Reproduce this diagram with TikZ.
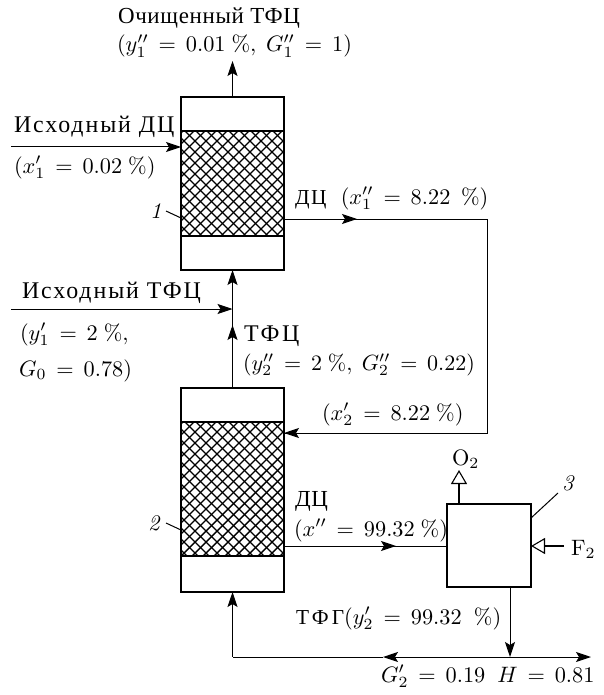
\documentclass[tikz,border=0pt]{standalone}
\usepackage[no-math]{fontspec}
\setmainfont[Scale=0.956,LetterSpace=3]{Liberation Serif}
\usetikzlibrary{arrows.meta}
\newcommand{\wideA}{\addfontfeature{LetterSpace=8}}
\newcommand{\wideB}{\addfontfeature{LetterSpace=11}}
\tikzset{
  vessel/.style={draw,line width=1.7pt,minimum width=103pt,inner sep=0pt,outer sep=0pt},
  box/.style={draw,line width=1.7pt,minimum width=84pt,minimum height=83pt,inner sep=0pt,outer sep=0pt},
  base/.style={anchor=base west,inner sep=0pt,outer sep=0pt},
  lbl/.style={base,scale=2.4},
  wlb/.style={base,scale=2.5},
  mth/.style={base,scale=2.23},
  mtn/.style={base,scale=2.2},
  flow/.style={line width=1pt,-{Stealth[length=15pt,width=10pt,inset=3pt]}},
  pipe/.style={line width=1pt},
  hollow/.style={line width=1.1pt,-{Triangle[open,length=14pt,width=16pt,fill=white,line width=1.1pt]}},
  hatchline/.style={line width=1.4pt},
}
\newcommand{\hatchfill}[4]{%
  \begin{scope}
    \clip (#1,#2) rectangle (#3,#4);
    \foreach \k in {0,...,80}{
      \draw[hatchline] (#1+\k*11-500,#2) ++(0,-20) -- ++(200,200);
      \draw[hatchline] (#1+\k*11,#2) ++(0,-20) -- ++(-200,200);
    }
  \end{scope}}
\begin{document}
\begin{tikzpicture}[x=1pt,y=-1pt]
\useasboundingbox (0,0) rectangle (603,695);
% hatching
\hatchfill{181}{131}{284}{236}
\hatchfill{181}{422}{284}{556}
% vessels
\node[vessel,minimum height=173pt] (c1) at (232.5,183.5) {};
\node[vessel,minimum height=204pt] (c2) at (232.5,490) {};
\draw[line width=1.4pt] (181,131) -- (284,131);
\draw[line width=1.4pt] (181,236) -- (284,236);
\draw[line width=1.4pt] (181,422) -- (284,422);
\draw[line width=1.4pt] (181,556) -- (284,556);
\node[box] (b3) at (489,545.5) {};
% free ends and bends
\coordinate (top) at (232.5,61);
\coordinate (inA) at (11,147);
\coordinate (inAe) at (181,147);
\coordinate (inB) at (11,309);
\coordinate (jB) at (232.5,309);
\coordinate (midT) at (232.5,325);
\coordinate (r1) at (284,219);
\coordinate (r1m) at (357,219);
\coordinate (r2) at (487,219);
\coordinate (r3) at (487,433);
\coordinate (r4) at (284,433);
\coordinate (s1) at (284,546);
\coordinate (s1m) at (396,546);
\coordinate (s2) at (447,546);
\coordinate (o2e) at (459,470);
\coordinate (o2s) at (459,504);
\coordinate (f2s) at (564,546);
\coordinate (f2e) at (531,546);
\coordinate (d1) at (510,587);
\coordinate (d2) at (510,657);
\coordinate (hl) at (383,657);
\coordinate (hr) at (591,657);
\coordinate (hb) at (232.5,657);
% connectors
\draw[flow] (c1.north) -- (top);
\draw[flow] (inA) -- (inAe);
\draw[flow] (inB) -- (jB);
\draw[flow] (c2.north) -- (c1.south);
\draw[flow] (c2.north) -- (midT);
\draw[pipe] (r1) -- (r2) -- (r3) -- (r4);
\draw[flow] (r1) -- (r1m);
\draw[flow] (r3) -- (r4);
\draw[pipe] (s1) -- (s2);
\draw[flow] (s1) -- (s1m);
\draw[flow] (d1) -- (d2);
\draw[flow] (d2) -- (hr);
\draw[flow] (d2) -- (hl);
\draw[pipe] (hl) -- (hb);
\draw[flow] (hb) -- (c2.south);
\draw[hollow] (o2s) -- (o2e);
\draw[hollow] (f2s) -- (f2e);
% leaders
\coordinate (l1a) at (166,211); \coordinate (l1b) at (181,218);
\coordinate (l2a) at (166,523); \coordinate (l2b) at (181,530);
\coordinate (l3a) at (558,493); \coordinate (l3b) at (531,518);
\draw[pipe] (l1a) -- (l1b);
\draw[pipe] (l2a) -- (l2b);
\draw[pipe] (l3a) -- (l3b);
% labels
\node[lbl] (t1) at (118,24) {Очищенный ТФЦ};
\node[mth] (t2) at (117,52) {$(y''_1\,=\,0.01\ \%,\ G''_1\,=\,1)$};
\node[wlb] (t3) at (14,133) {\wideA Исходный ДЦ};
\node[mth] (t4) at (14,173) {$(x'_1\,=\,0.02\ \%)$};
\node[mth] (t5) at (295,204) {\wideA ДЦ\,\, $(x''_1\,=\,8.22\ \,\%)$};
\node[wlb] (t6) at (22,298) {\wideA Исходный ТФЦ};
\node[mth] (t7) at (20,340) {$(y'_1\,=\,2\ \%,$};
\node[mth] (t8) at (19,376) {$G_0\,=\,0.78)$};
\node[wlb] (t9) at (244,341) {\wideB ТФЦ};
\node[mtn] (t10) at (243,370) {$(y''_2\,=\,2\ \%,\ G''_2\,=\,0.22)$};
\node[mth] (t11) at (322,420) {$(x'_2\,=\,8.22\ \%)$};
\node[lbl] (t12) at (295,506) {ДЦ};
\node[mth] (t13) at (294,536) {$(x''\,=\,99.32\ \%)$};
\node[mth] (t14) at (296,624) {\addfontfeature{LetterSpace=15}ТФГ$(y'_2\,=\,99.32\ \,\%)$};
\node[mth] (t15) at (381,682) {$G'_2\,=\,0.19\ \ H\,=\,0.81$};
\node[mth] (t16) at (452,465) {$\mathrm{O}_2$};
\node[mth] (t17) at (571,555) {$\mathrm{F}_2$};
\node[mth] (n1) at (150,218) {$\mathit{1}$};
\node[mth] (n2) at (148,530) {$\mathit{2}$};
\node[mth] (n3) at (562,490) {$\mathit{3}$};
\end{tikzpicture}
\end{document}
